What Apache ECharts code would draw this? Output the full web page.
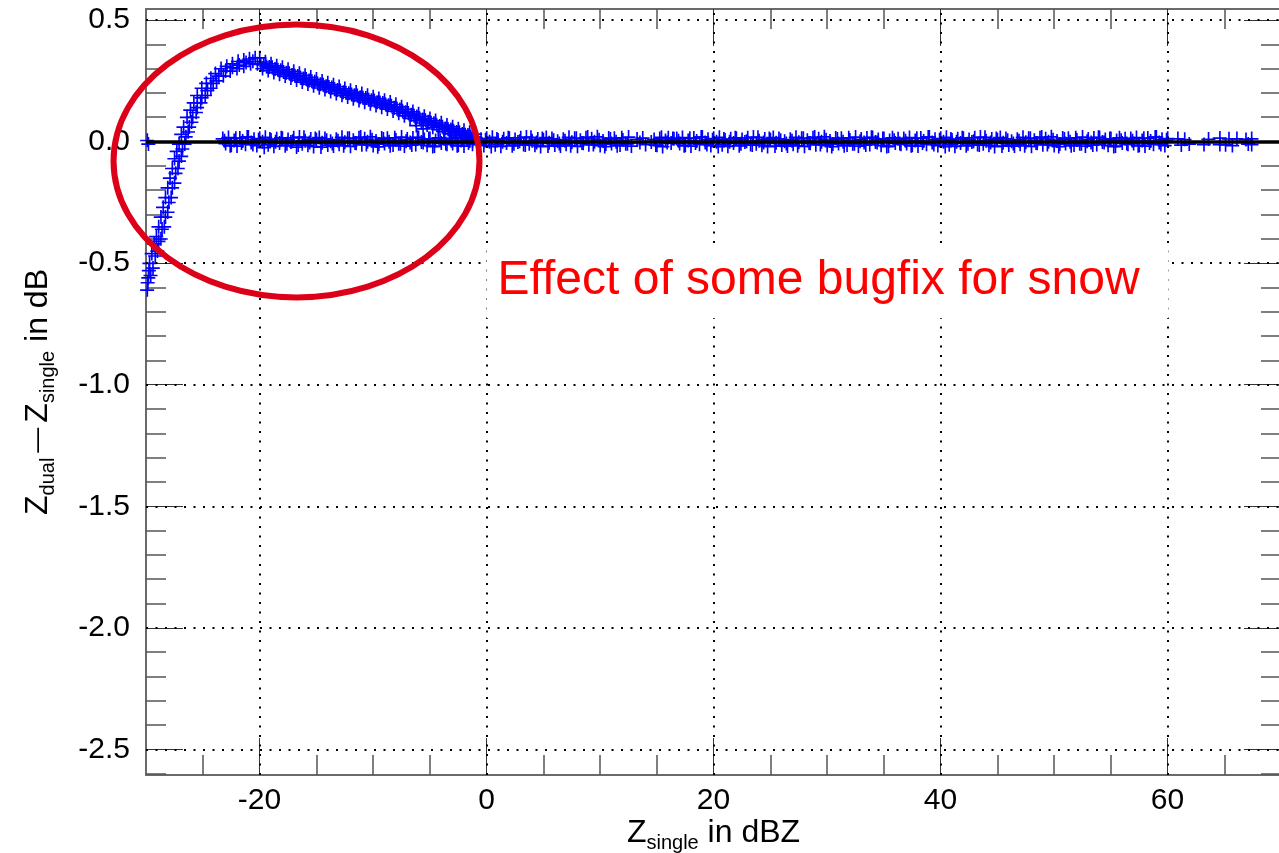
<!DOCTYPE html>
<html><head><meta charset="utf-8">
<script src="https://cdn.jsdelivr.net/npm/echarts@6/dist/echarts.min.js"></script>
<style>html,body{margin:0;padding:0;background:#fff}#c{width:1279px;height:853px}</style>
</head><body><div id="c"></div>
<script>
// ---- tick values ----
const xMajorTicks = [-20, 0, 20, 40, 60];
const xMinorTicks = [-25, -15, -10, -5, 5, 10, 15, 25, 30, 35, 45, 50, 55, 65];
const yMajorTicks = [0.5, 0, -0.5, -1, -1.5, -2, -2.5];
const yMinorTicks = [0.4, 0.3, 0.2, 0.1, -0.1, -0.2, -0.3, -0.4, -0.6, -0.7, -0.8, -0.9, -1.1, -1.2, -1.3, -1.4,
  -1.6, -1.7, -1.8, -1.9, -2.1, -2.2, -2.3, -2.4, -2.6];

// ---- data: [Z_single, Z_dual - Z_single] ----
const zeroBand = [
  [-29.9,.005],[-29.8,-.01],
  [-23.25,.012],[-23,-.008],[-22.75,.017],[-22.5,-.015],[-22.25,.004],[-22,-.018],[-21.75,.015],[-21.5,.002],[-21.25,-.011],[-21,.019],
  [-20.75,-.004],[-20.5,.009],[-20.25,-.016],[-20,.013],[-19.75,-.001],[-19.5,.018],[-19.25,-.013],[-19,.006],[-18.75,-.019],[-18.5,.011],
  [-18.25,-.006],[-18,.014],[-17.75,-.017],[-17.5,.008],[-17.25,-.002],[-17,.016],[-16.75,-.022],[-16.5,.019],[-16.25,-.009],[-16,.003],
  [-15.75,-.015],[-15.5,.01],[-15.25,-.02],[-15,.007],[-14.75,.017],[-14.5,-.005],[-14.25,.012],[-14,-.014],[-13.75,.001],[-13.5,-.018],
  [-13.25,.009],[-13,-.011],[-12.75,.018],[-12.5,-.003],[-12.25,.014],[-12,-.019],[-11.75,.005],[-11.5,-.007],[-11.25,.016],[-11,-.013],
  [-10.75,.011],[-10.5,-.001],[-10.25,.02],[-10,-.016],[-9.75,.002],[-9.5,-.01],[-9.25,.015],[-9,-.008],[-8.75,.013],[-8.5,-.017],
  [-8.25,-.014],[-8,.006],[-7.75,-.009],[-7.5,.019],[-7.25,-.018],[-7,.01],[-6.75,-.004],[-6.5,.015],[-6.25,-.012],[-6,.017],
  [-5.75,-.002],[-5.5,.008],[-5.25,-.015],[-5,.012],[-4.75,-.02],[-4.5,.004],[-4.25,.016],[-4,-.006],[-3.75,.011],[-3.5,-.011],
  [-3.25,.012],[-3,-.008],[-2.75,.017],[-2.5,-.015],[-2.25,.004],[-2,-.018],[-1.75,.015],[-1.5,.002],[-1.25,-.011],[-1,.019],
  [-0.75,-.004],[-0.5,.009],[-0.25,-.016],[0,.013],[0.25,-.001],[0.5,.018],[0.75,-.013],[1,.006],[1.25,-.019],[1.5,.011],
  [1.75,-.006],[2,.014],[2.25,-.017],[2.5,.008],[2.75,-.002],[3,.016],[3.25,-.012],[3.5,.019],[3.75,-.009],[4,.003],
  [4.25,-.015],[4.5,.01],[4.75,-.02],[5,.007],[5.25,.017],[5.5,-.005],[5.75,.012],[6,-.014],[6.25,.001],[6.5,-.018],
  [6.75,.009],[7,-.011],[7.25,.018],[7.5,-.003],[7.75,.014],[8,-.019],[8.25,.005],[8.5,-.007],[8.75,.016],[9,-.013],
  [9.25,.011],[9.5,-.001],[9.75,.02],[10,-.016],[10.25,.002],[10.5,-.01],[10.75,.015],[11,-.008],[11.25,.013],[11.5,-.017],
  [11.75,-.014],[12,.006],[12.25,-.009],[12.5,.019],[12.75,-.018],[13.25,.01],[13.5,-.004],[13.75,.015],[14,-.012],
  [14.5,-.002],[14.75,.008],[15,-.015],[15.25,.012],[15.5,-.02],[15.75,.004],[16,.016],[16.25,-.006],[16.5,.011],
  [16.75,.012],[17,-.008],[17.25,.017],[17.5,-.015],[17.75,.004],[18,-.018],[18.25,.015],[18.5,.002],[18.75,-.011],[19,.019],
  [19.25,-.004],[19.5,.009],[19.75,-.016],[20,.013],[20.25,-.001],[20.5,.018],[20.75,-.013],[21,.006],[21.25,-.019],[21.5,.011],
  [21.75,-.006],[22,.014],[22.25,-.017],[22.5,.008],[22.75,-.002],[23,.016],[23.25,-.012],[23.5,.019],[23.75,-.009],[24,.003],
  [24.25,-.015],[24.5,.01],[24.75,-.02],[25,.007],[25.25,.017],[25.5,-.005],[25.75,.012],[26,-.014],[26.25,.001],[26.5,-.018],
  [26.75,.009],[27,-.011],[27.25,.018],[27.5,-.003],[27.75,.014],[28,-.019],[28.25,.005],[28.5,-.007],[28.75,.016],[29,-.013],
  [29.25,.011],[29.5,-.001],[29.75,.02],[30,-.016],[30.25,.002],[30.5,-.01],[30.75,.015],[31,-.008],[31.25,.013],[31.5,-.017],
  [31.75,-.014],[32,.006],[32.25,-.009],[32.5,.019],[32.75,-.018],[33,.01],[33.25,-.004],[33.5,.015],[33.75,-.012],[34,.017],
  [34.25,-.002],[34.5,.008],[34.75,-.015],[35,.012],[35.25,-.02],[35.5,.004],[35.75,.016],[36,-.006],[36.25,.011],[36.5,-.011],
  [36.75,.012],[37,-.008],[37.25,.017],[37.5,-.015],[37.75,.004],[38,-.018],[38.25,.015],[38.5,.002],[38.75,-.011],[39,.019],
  [39.25,-.004],[39.5,.009],[39.75,-.016],[40,.013],[40.25,-.001],[40.5,.018],[40.75,-.013],[41,.006],[41.25,-.019],[41.5,.011],
  [41.75,-.006],[42,.014],[42.25,-.017],[42.5,.008],[42.75,-.002],[43,.016],[43.25,-.012],[43.5,.019],[43.75,-.009],[44,.003],
  [44.25,-.015],[44.5,.01],[44.75,-.02],[45,.007],[45.25,.017],[45.5,-.005],[45.75,.012],[46,-.014],[46.25,.001],[46.5,-.018],
  [46.75,.009],[47,-.011],[47.25,.018],[47.5,-.003],[47.75,.014],[48,-.019],[48.25,.005],[48.5,-.007],[48.75,.016],[49,-.013],
  [49.25,.011],[49.5,-.001],[49.75,.02],[50,-.016],[50.25,.002],[50.5,-.01],[50.75,.015],[51,-.008],[51.25,.013],[51.5,-.017],
  [51.75,-.014],[52,.006],[52.25,-.009],[52.5,.019],[52.75,-.018],[53,.01],[53.25,-.004],[53.5,.015],[53.75,-.012],[54,.017],
  [54.25,-.002],[54.5,.008],[54.75,-.015],[55,.012],[55.25,-.02],[55.5,.004],[55.75,.016],[56,-.006],[56.25,.011],[56.5,-.011],
  [56.75,.012],[57,-.008],[57.25,.017],[57.5,-.015],[57.75,.004],[58,-.018],[58.25,.015],[58.5,.002],[58.75,-.011],[59,.019],
  [59.25,-.004],[59.5,.009],[59.75,-.016],[60,.013],
  [60.9,.012],[61.2,-.014],[61.5,.009],[61.9,-.01],[63.2,-.012],[63.6,.01],[64.6,.015],[64.6,-.012],
  [65.1,-.013],[65.4,.011],[65.7,-.016],[66.1,.012],[66.9,.008],[67.1,-.01],[67.4,-.012],[67.4,.012]
];
const zeroBandB = [
  [-23.1,.003],[-22.6,-.017],[-22.1,.014],[-21.6,-.006],[-21.1,.019],[-20.6,-.012],[-20.1,.007],[-19.6,-.024],[-19.1,.01],[-18.6,-.001],
  [-18.1,.016],[-17.6,-.009],[-17.1,.001],[-16.6,-.014],[-16.1,.018],[-15.6,-.004],[-15.1,.012],[-14.6,-.022],[-14.1,.005],[-13.6,-.008],
  [-13.1,.003],[-12.6,-.017],[-12.1,.014],[-11.6,-.006],[-11.1,.019],[-10.6,-.012],[-10.1,.007],[-9.6,-.021],[-9.1,.01],[-8.6,-.001],
  [-8.1,.016],[-7.6,-.009],[-7.1,.001],[-6.6,-.014],[-6.1,.018],[-5.6,-.004],[-5.1,.012],[-4.6,-.018],[-4.1,.005],[-3.6,-.008],
  [-3.1,.003],[-2.6,-.017],[-2.1,.014],[-1.6,-.006],[-1.1,.019],[-0.6,-.012],[-0.1,.007],[0.4,-.02],[0.9,.01],[1.4,-.001],
  [1.9,.016],[2.4,-.009],[2.9,.001],[3.4,-.014],[3.9,.018],[4.4,-.004],[4.9,.012],[5.4,-.018],[5.9,.005],[6.4,-.008],
  [6.9,.003],[7.4,-.017],[7.9,.014],[8.4,-.006],[8.9,.019],[9.4,-.012],[9.9,.007],[10.4,-.02],[10.9,.01],[11.4,-.001],
  [11.9,.016],[12.4,-.009],[14.9,-.014],[15.4,.018],[15.9,-.004],[16.4,.012],
  [16.9,.003],[17.4,-.017],[17.9,.014],[18.4,-.006],[18.9,.019],[19.4,-.012],[19.9,.007],[20.4,-.02],[20.9,.01],[21.4,-.001],
  [21.9,.016],[22.4,-.009],[22.9,.001],[23.4,-.014],[23.9,.018],[24.4,-.004],[24.9,.012],[25.4,-.018],[25.9,.005],[26.4,-.008],
  [26.9,.003],[27.4,-.017],[27.9,.014],[28.4,-.006],[28.9,.019],[29.4,-.012],[29.9,.007],[30.4,-.02],[30.9,.01],[31.4,-.001],
  [31.9,.016],[32.4,-.009],[32.9,.001],[33.4,-.014],[33.9,.018],[34.4,-.004],[34.9,.012],[35.4,-.018],[35.9,.005],[36.4,-.008],
  [36.9,.003],[37.4,-.017],[37.9,.014],[38.4,-.006],[38.9,.019],[39.4,-.012],[39.9,.007],[40.4,-.02],[40.9,.01],[41.4,-.001],
  [41.9,.016],[42.4,-.009],[42.9,.001],[43.4,-.014],[43.9,.018],[44.4,-.004],[44.9,.012],[45.4,-.018],[45.9,.005],[46.4,-.008],
  [46.9,.003],[47.4,-.017],[47.9,.014],[48.4,-.006],[48.9,.019],[49.4,-.012],[49.9,.007],[50.4,-.02],[50.9,.01],[51.4,-.001],
  [51.9,.016],[52.4,-.009],[52.9,.001],[53.4,-.014],[53.9,.018],[54.4,-.004],[54.9,.012],[55.4,-.018],[55.9,.005],[56.4,-.008],
  [56.9,.003],[57.4,-.017],[57.9,.014],[58.4,-.006],[58.9,.019],[59.4,-.012],[59.9,.007]
];
const risingA = [
  [-29.9,-.61],[-29.8,-.56],[-29.7,-.5],[-29.5,-.46],[-29.3,-.42],[-29.1,-.39],[-28.9,-.35],
  [-28.7,-.31],[-28.5,-.27],[-28.3,-.23],[-28.1,-.19],[-27.9,-.15],[-27.7,-.11],[-27.5,-.07],
  [-27.3,-.04],[-27.1,-.01],[-26.9,.03],[-26.7,.06],[-26.4,.1],[-26.1,.13],[-25.8,.16],
  [-25.5,.19],[-25.1,.22],[-24.7,.24],[-24.3,.26],[-23.9,.28],[-23.4,.3],[-22.9,.31],
  [-22.4,.32],[-21.9,.33],[-21.4,.335],[-20.9,.34],[-20.4,.345],[-20.0,.345]
];
const risingB = [
  [-29.4,-.52],[-29.0,-.45],[-28.7,-.4],[-28.4,-.35],[-28.1,-.29],[-27.8,-.23],[-27.5,-.17],
  [-27.2,-.11],[-26.9,-.06],[-26.6,-.01],[-26.3,.04],[-26.0,.08],[-25.6,.12],[-25.2,.16],
  [-24.8,.19],[-24.3,.22],[-23.8,.25],[-23.2,.27],[-22.6,.29],[-22.0,.3],[-21.4,.31],
  [-20.8,.32],[-20.2,.32]
];
const risingC = [
  [-29.6,-.55],[-29.2,-.47],[-28.9,-.41],[-28.6,-.36],[-28.3,-.31],[-28.0,-.25],[-27.7,-.19],
  [-27.4,-.13],[-27.1,-.08],[-26.8,-.03],[-26.5,.02],[-26.2,.06],[-25.9,.1],[-25.5,.14],
  [-25.1,.18],[-24.6,.21],[-24.1,.24],[-23.6,.27],[-23.0,.29],[-22.4,.305],[-21.8,.315],
  [-21.2,.325],[-20.6,.33]
];
const fallingUpper = [
  [-19.5,.328],[-19,.32],[-18.5,.312],[-18,.305],[-17.5,.297],[-17,.289],[-16.5,.281],
  [-16,.273],[-15.5,.265],[-15,.257],[-14.5,.249],[-14,.242],[-13.5,.234],[-13,.226],
  [-12.5,.218],[-12,.211],[-11.5,.204],[-11,.197],[-10.5,.19],[-10,.184],[-9.5,.177],
  [-9,.17],[-8.5,.163],[-8,.153],[-7.5,.143],[-7,.133],[-6.5,.123],[-6,.114],
  [-5.5,.104],[-5,.095],[-4.5,.086],[-4,.077],[-3.5,.068],[-3,.061],[-2.5,.053],
  [-2,.046],[-1.5,.038],[-1,.031]
];
const fallingMid = [
  [-19.9,.318],[-19.65,.316],[-19.4,.309],[-19.15,.307],[-18.9,.305],[-18.65,.298],[-18.4,.295],[-18.15,.293],
  [-17.9,.286],[-17.65,.283],[-17.4,.281],[-17.15,.274],[-16.9,.271],[-16.65,.269],[-16.4,.262],[-16.15,.259],
  [-15.9,.257],[-15.65,.251],[-15.4,.248],[-15.15,.246],[-14.9,.239],[-14.65,.236],[-14.4,.234],[-14.15,.227],
  [-13.9,.224],[-13.65,.222],[-13.4,.215],[-13.15,.212],[-12.9,.21],[-12.65,.203],[-12.4,.201],[-12.15,.199],
  [-11.9,.193],[-11.65,.19],[-11.4,.189],[-11.15,.182],[-10.9,.18],[-10.65,.179],[-10.4,.172],[-10.15,.17],
  [-9.9,.169],[-9.65,.162],[-9.4,.16],[-9.15,.158],[-8.9,.152],[-8.65,.149],[-8.4,.147],[-8.15,.139],
  [-7.9,.135],[-7.65,.132],[-7.4,.124],[-7.15,.12],[-6.9,.117],[-6.65,.11],[-6.4,.106],[-6.15,.103],
  [-5.9,.095],[-5.65,.091],[-5.4,.088],[-5.15,.081],[-4.9,.077],[-4.65,.075],[-4.4,.067],[-4.15,.064],
  [-3.9,.061],[-3.65,.054],[-3.4,.051],[-3.15,.049],[-2.9,.042],[-2.65,.039],[-2.4,.038],[-2.15,.031],
  [-1.9,.028],[-1.65,.027],[-1.4,.02],[-1.15,.017],[-0.9,.015]
];
const fallingLower = [
  [-19.75,.3],[-19.25,.292],[-18.75,.284],[-18.25,.277],[-17.75,.269],[-17.25,.261],[-16.75,.253],
  [-16.25,.245],[-15.75,.237],[-15.25,.229],[-14.75,.221],[-14.25,.214],[-13.75,.206],[-13.25,.198],
  [-12.75,.19],[-12.25,.183],[-11.75,.176],[-11.25,.169],[-10.75,.162],[-10.25,.155],[-9.75,.148],
  [-9.25,.141],[-8.75,.134],[-8.25,.126],[-7.75,.116],[-7.25,.106],[-6.75,.096],[-6.25,.087],
  [-5.75,.077],[-5.25,.068],[-4.75,.059],[-4.25,.05],[-3.75,.041],[-3.25,.032],[-2.75,.025],
  [-2.25,.018],[-1.75,.01],[-1.25,.003]
];
const strayPoints = [[-6.2,.066],[-5.6,.053],[-29.85,-.58],[-29.75,-.53]];

const annotationText = 'Effect of some bugfix for snow';

// ---- chart ----
const F = 'Liberation Sans, Arial, Helvetica, sans-serif';
const X_MIN = -30, X_MAX = 70, Y_MIN = -2.605, Y_MAX = 0.545;
const PLUS = 'path://M0,5H11V6.3H0ZM5,0H6.3V11H5Z';

function axis(kind, position, ticks, len, tickColor, tickWidth, showLine, extra) {
  const a = {
    type: 'value', position: position,
    min: kind === 'x' ? X_MIN : Y_MIN, max: kind === 'x' ? X_MAX : Y_MAX,
    splitLine: { show: false },
    axisLine: { show: showLine, onZero: false, lineStyle: { color: '#6a6a6a', width: 2 } },
    axisTick: { show: true, inside: true, length: len, customValues: ticks,
      lineStyle: { color: tickColor, width: tickWidth } },
    axisLabel: { show: false },
    axisPointer: { show: false }
  };
  return Object.assign(a, extra || {});
}

const nameRich = {
  m: { fontFamily: F, fontSize: 32, color: '#000', lineHeight: 40 },
  d: { fontFamily: F, fontSize: 25, color: '#000', lineHeight: 40 },
  s: { fontFamily: F, fontSize: 20, color: '#000', lineHeight: 22, verticalAlign: 'bottom' }
};

const chart = echarts.init(document.getElementById('c'), null, { renderer: 'canvas' });
const scatterStyle = {
  type: 'scatter', symbol: PLUS, symbolSize: 14, xAxisIndex: 0, yAxisIndex: 0,
  itemStyle: { color: '#0000ff', opacity: 1 }, silent: true, animation: false, large: false
};

chart.setOption({
  animation: false,
  backgroundColor: '#fff',
  grid: { left: 146, top: 9, width: 1135, height: 766, containLabel: false, outerBoundsMode: 'none' },
  xAxis: [
    axis('x', 'bottom', xMinorTicks, 20, '#555', 1.5, true, {
      axisLabel: { show: true, customValues: xMajorTicks, margin: 11, fontFamily: F, fontSize: 30, color: '#000',
        formatter: v => String(v) },
      name: '{m|Z}{s|single}{m| in dBZ}', nameLocation: 'middle', nameGap: 38, nameMoveOverlap: false,
      nameTextStyle: { fontFamily: F, fontSize: 32, color: '#000', rich: nameRich }
    }),
    axis('x', 'bottom', xMajorTicks, 37, '#333', 1, false),
    axis('x', 'top', xMinorTicks, 20, '#555', 1.5, true),
    axis('x', 'top', xMajorTicks, 37, '#333', 1, false)
  ],
  yAxis: [
    axis('y', 'left', yMinorTicks, 20, '#555', 1.5, true, {
      axisLabel: { show: true, customValues: yMajorTicks, margin: 16, fontFamily: F, fontSize: 30, color: '#000',
        formatter: v => v.toFixed(1) },
      name: '{m|Z}{s|dual}{d|\u2009—\u2009}{m|Z}{s|single}{m| in dB}', nameLocation: 'middle', nameGap: 88, nameRotate: 90,
      nameTextStyle: { fontFamily: F, fontSize: 32, color: '#000', rich: nameRich }
    }),
    axis('y', 'left', yMajorTicks, 37, '#333', 1, false),
    axis('y', 'right', yMinorTicks, 20, '#555', 1.5, true),
    axis('y', 'right', yMajorTicks, 37, '#333', 1, false)
  ],
  series: [
    Object.assign({ name: 'zero', data: zeroBand }, scatterStyle),
    Object.assign({ name: 'zeroB', data: zeroBandB }, scatterStyle),
    Object.assign({ name: 'risingA', data: risingA }, scatterStyle),
    Object.assign({ name: 'risingB', data: risingB }, scatterStyle),
    Object.assign({ name: 'risingC', data: risingC }, scatterStyle),
    Object.assign({ name: 'fallingUpper', data: fallingUpper }, scatterStyle),
    Object.assign({ name: 'fallingMid', data: fallingMid }, scatterStyle),
    Object.assign({ name: 'fallingLower', data: fallingLower }, scatterStyle),
    Object.assign({ name: 'stray', data: strayPoints }, scatterStyle),
    {
      type: 'line', name: 'grid', data: [], xAxisIndex: 0, yAxisIndex: 0, silent: true, animation: false,
      markLine: {
        silent: true, animation: false, symbol: ['none', 'none'], label: { show: false },
        lineStyle: { color: '#000', width: 2, type: [2, 7.5], cap: 'butt' },
        emphasis: { disabled: true },
        data: xMajorTicks.map(v => ({ xAxis: v })).concat(yMajorTicks.map(v => ({ yAxis: v }))).concat([
          { yAxis: 0, lineStyle: { type: 'solid', width: 3.5, color: '#000' } }
        ])
      }
    }
  ]
});

// ---- annotations anchored to data coordinates ----
function px(x, y) { return chart.convertToPixel({ xAxisIndex: 0, yAxisIndex: 0 }, [x, y]); }
const eC = px(-16.74, -0.08), eR = px(-16.74 + 16.12, -0.08 - 0.561);
const boxA = px(0.0, -0.42), boxB = px(60.1, -0.727);
const tP = px(0.97, -0.572);
chart.setOption({
  graphic: [
    { type: 'rect', z: 90, silent: true,
      shape: { x: boxA[0], y: boxA[1], width: boxB[0] - boxA[0], height: boxB[1] - boxA[1] },
      style: { fill: '#fff' } },
    { type: 'text', z: 91, silent: true, x: tP[0], y: tP[1],
      style: { text: annotationText, fill: '#ff0000', font: '48px ' + F, textAlign: 'left', textVerticalAlign: 'middle' } },
    { type: 'ellipse', z: 100, silent: true,
      shape: { cx: eC[0], cy: eC[1], rx: eR[0] - eC[0], ry: eR[1] - eC[1] },
      style: { fill: 'none', stroke: '#dc0018', lineWidth: 6 } }
  ]
});
</script>
</body></html>
